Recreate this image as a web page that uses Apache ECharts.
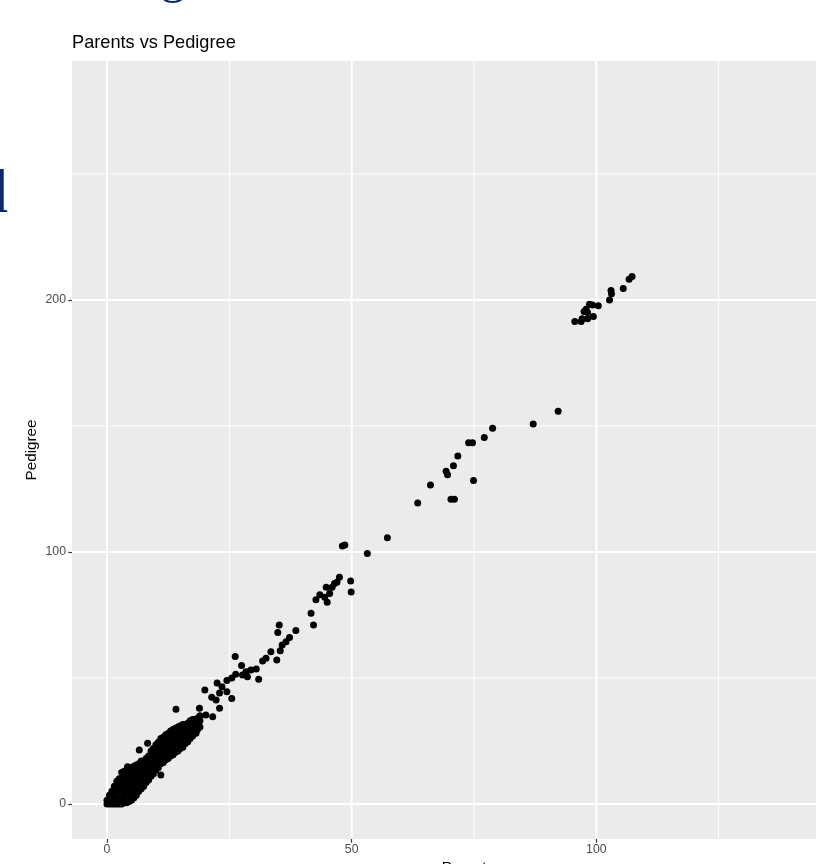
<!DOCTYPE html>
<html>
<head>
<meta charset="utf-8">
<script src="https://cdn.jsdelivr.net/npm/echarts@6/dist/echarts.min.js"></script>
<style>
  html, body { margin: 0; padding: 0; background: #ffffff; }
  #chart { width: 816px; height: 864px; }
</style>
</head>
<body>
<div id="chart"></div>
<script>
// Parents vs Pedigree scatter, points as [parents, pedigree]

// dense core near the origin
const coreBand = [
  [0,0],[0,1.5],[0.5,0],[0.5,2],[0.5,3.5],[1,0],[1,2],[1,4],[1,5],
  [1.5,0],[1.5,2.5],[1.5,5],[1.5,7],[2,0],[2,2.5],[2,5],[2,7.5],[2,9],
  [2.5,0],[2.5,2.5],[2.5,5],[2.5,7.5],[2.5,10],
  [3,0],[3,2.5],[3,5],[3,7.5],[3,10],[3,12.5],
  [3.5,0.5],[3.5,3],[3.5,5.5],[3.5,8],[3.5,10.5],[3.5,13],
  [4,0.5],[4,3.5],[4,6],[4,8.5],[4,11],[4,13.5],
  [4.5,1],[4.5,4],[4.5,6.5],[4.5,9],[4.5,11.5],[4.5,14],
  [5,1.5],[5,4.5],[5,7],[5,9.5],[5,12],[5,14.5],
  [5.5,2.5],[5.5,5.5],[5.5,8],[5.5,10.5],[5.5,13],[5.5,15],
  [6,3.5],[6,6.5],[6,9],[6,11.5],[6,14],[6,15.5],
  [6.5,5],[6.5,7.5],[6.5,10],[6.5,12.5],[6.5,15],[6.5,16],
  [7,6],[7,8.5],[7,11],[7,13.5],[7,16],[7,17],
  [7.5,7],[7.5,9.5],[7.5,12],[7.5,14.5],[7.5,17],
  [8,8.5],[8,11],[8,13.5],[8,16],[8,18],
  [8.5,9.5],[8.5,12],[8.5,14.5],[8.5,17],[8.5,19],
  [9,11],[9,13.5],[9,16],[9,18.5],[9,21],
  [9.5,12],[9.5,14.5],[9.5,17],[9.5,19.5],[9.5,22],
  [10,13.5],[10,16],[10,18.5],[10,21],[10,23.5],
  [10.5,14.5],[10.5,17],[10.5,19.5],[10.5,22],[10.5,24.5],
  [11,16],[11,18.5],[11,21],[11,23.5],[11,26],
  [11.5,16.5],[11.5,19],[11.5,21.5],[11.5,24],[11.5,26.5],
  [12,17.5],[12,20],[12,22.5],[12,25],[12,27.5],
  [12.5,18],[12.5,20.5],[12.5,23],[12.5,25.5],[12.5,28],
  [13,19],[13,21.5],[13,24],[13,26.5],[13,29],
  [13.5,19.5],[13.5,22],[13.5,24.5],[13.5,27],[13.5,29.5],
  [14,20.5],[14,23],[14,25.5],[14,28],[14,30],
  [14.5,21],[14.5,23.5],[14.5,26],[14.5,28.5],[14.5,30.5],
  [15,22],[15,24.5],[15,27],[15,29.5],[15,31],
  [15.5,22.5],[15.5,25],[15.5,27.5],[15.5,30],[15.5,31.5],
  [16,24],[16,26.5],[16,29],[16,31.5],
  [16.5,25],[16.5,27.5],[16.5,30],[16.5,32],
  [17,26],[17,28.5],[17,31],[17,33],
  [17.5,27],[17.5,29.5],[17.5,32],[17.5,33.5],
  [18,28.5],[18,31],[18,33.5],
  [18.5,29.5],[18.5,32],[18.5,34],
  [19,30.5],[19,33],[19,35]
];

// looser points along the trend, parents up to ~60
const spreadPoints = [
  [4.2,14.8],[6.6,21.4],[8.3,24.1],[11.0,11.5],[14.1,37.6],[16.5,24.7],[18.2,28.1],
  [18.9,38],[20.2,35.3],[21.6,34.6],[23,38],[20,45.2],[21.4,42.3],[22.3,41.3],[25.5,41.8],
  [22.5,48],[23.5,46.5],[24.5,49],[25.5,50],[26.3,51.5],[24.5,44.5],[23,44],
  [26.2,58.5],[27.5,54.9],[28.4,52.5],[29.4,53.2],[30.5,53.6],[28.7,50.5],[27.7,51.2],[31,49.5],
  [31.8,56.7],[32.5,57.8],[33.5,60.4],[35.4,60.8],[34.7,57.1],[35.8,63.1],[36.6,64.4],
  [37.3,66.1],[38.6,68.8],[35.2,71],[34.9,68],
  [42.7,81],[41.7,75.7],[42.2,71],
  [43.5,83],[44.5,82],[45,80],[45.5,83.5],[46,86],[46.5,87.5],[47,88],[44.8,86],
  [47.5,90],[49.8,88.5],[49.9,84.1],[48.1,102.4],[48.6,102.8],[53.2,99.4],[57.3,105.6]
];

// upper points, parents above 60
const upperPoints = [
  [63.5,119.4],[66.1,126.6],[69.3,132.0],[69.6,130.6],[70.8,134.2],[71.7,138.1],
  [73.9,143.3],[74.7,143.3],[74.9,128.3],[70.3,120.9],[71.0,120.9],
  [77.1,145.4],[78.8,149.1],[87.1,150.8],[92.2,155.8],
  [95.6,191.4],[96.9,191.4],[97.1,192.5],[98.2,192.5],[99.4,193.4],[97.5,195.4],
  [98.2,195.0],[97.9,196.3],[98.6,198.3],[99.2,198.0],[100.4,197.7],
  [102.7,200],[103.1,202.4],[103.0,203.7],[105.5,204.5],[106.7,208.2],[107.3,209.3]
];

// axis ticks and grid lines
const xTicks = [0, 50, 100];
const xMinor = [25, 75, 125];
const yTicks = [0, 100, 200];
const yMinor = [50, 150, 250];

const FONT = '"Liberation Sans", Arial, Helvetica, sans-serif';

// grid line rows: [x, y, lineWidth, direction]  (0 = vertical, 1 = horizontal)
const gridRows = []
  .concat(xMinor.map(v => [v, 0, 1, 0]))
  .concat(yMinor.map(v => [0, v, 1, 1]))
  .concat(xTicks.map(v => [v, 0, 2, 0]))
  .concat(yTicks.map(v => [0, v, 2, 1]));

const chart = echarts.init(document.getElementById('chart'), null, { renderer: 'canvas' });

chart.setOption({
  animation: false,
  backgroundColor: '#ffffff',
  title: {
    text: 'Parents vs Pedigree',
    left: 67,
    top: 29,
    textStyle: { fontFamily: FONT, fontSize: 18.2, fontWeight: 'normal', color: '#000000' }
  },
  grid: {
    left: 72, top: 61, right: -48, bottom: 25,
    containLabel: false,
    outerBoundsMode: 'none',
    show: true, backgroundColor: '#EBEBEB', borderWidth: 0
  },
  xAxis: {
    type: 'value',
    min: -7.15, max: 154.7,
    name: 'Parents',
    nameLocation: 'middle',
    nameGap: 21,
    nameMoveOverlap: false,
    nameTextStyle: { fontFamily: FONT, fontSize: 15.2, color: '#000000' },
    axisLine: { show: false, onZero: false },
    splitLine: { show: false },
    axisTick: { show: true, customValues: xTicks, length: 3.7, lineStyle: { color: '#333333', width: 1.2 } },
    axisLabel: { customValues: xTicks, color: '#4D4D4D', fontFamily: FONT, fontSize: 12.3, margin: 5 }
  },
  yAxis: {
    type: 'value',
    min: -13.9, max: 294.8,
    name: 'Pedigree',
    nameLocation: 'middle',
    nameGap: 33,
    nameMoveOverlap: false,
    nameTextStyle: { fontFamily: FONT, fontSize: 15.2, color: '#000000' },
    axisLine: { show: false, onZero: false },
    splitLine: { show: false },
    axisTick: { show: true, customValues: yTicks, length: 3.7, lineStyle: { color: '#333333', width: 1.2 } },
    axisLabel: { customValues: yTicks, color: '#4D4D4D', fontFamily: FONT, fontSize: 12.3, margin: 6 }
  },
  graphic: [
    {
      type: 'text', x: 8, y: 165, silent: true,
      style: { text: 'd', font: '62px "Liberation Serif", serif', fill: '#0b2a6b', textAlign: 'right', textVerticalAlign: 'top' }
    },
    {
      type: 'text', x: 173, y: -46, silent: true,
      style: { text: 'g', font: '50px "Liberation Serif", serif', fill: '#0b2a6b', textAlign: 'center', textVerticalAlign: 'top' }
    }
  ],
  series: [
    {
      type: 'custom',
      silent: true,
      z: 1,
      data: gridRows,
      renderItem: function (params, api) {
        const cs = params.coordSys;
        const p = api.coord([api.value(0), api.value(1)]);
        const w = api.value(2);
        const shape = api.value(3) === 0
          ? { x1: p[0], y1: cs.y, x2: p[0], y2: cs.y + cs.height }
          : { x1: cs.x, y1: p[1], x2: cs.x + cs.width, y2: p[1] };
        return { type: 'line', shape: shape, style: { stroke: '#ffffff', lineWidth: w } };
      }
    },
    {
      type: 'scatter',
      z: 3,
      symbolSize: 7,
      itemStyle: { color: '#000000', opacity: 1 },
      data: coreBand.concat(spreadPoints, upperPoints)
    }
  ]
});
</script>
</body>
</html>
